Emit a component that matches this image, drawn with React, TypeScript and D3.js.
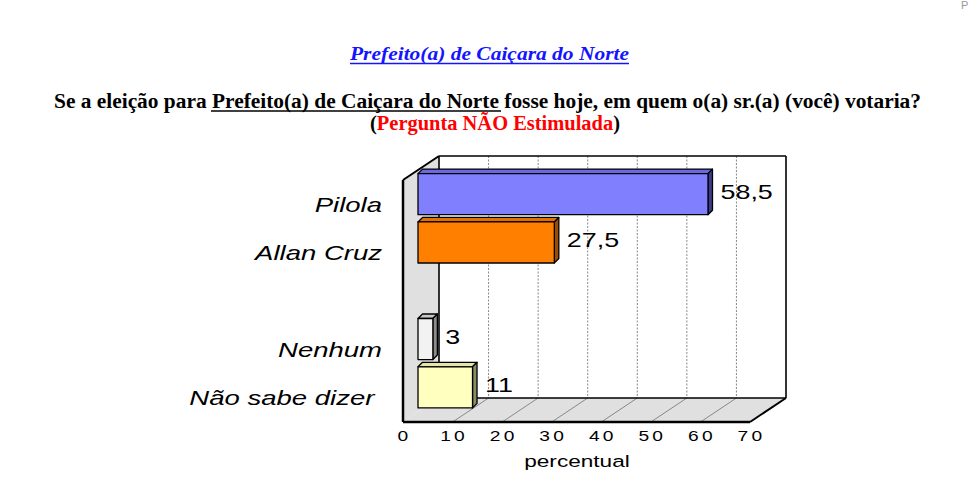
import * as d3 from "d3";

// dados da pesquisa
const categories = ["Pilola", "Allan Cruz", "", "Nenhum", "Não sabe dizer "];
const values: (number | null)[] = [58.5, 27.5, null, 3, 11];
const valueLabels = ["58,5", "27,5", "", "3", "11"];
const axisTicks = [0, 10, 20, 30, 40, 50, 60, 70];

const frontColors = ["#8080ff", "#ff8000", "none", "#f2f2f2", "#ffffc0"];
const topColors = ["#6a6ae0", "#e07000", "none", "#c8c8c8", "#e6e6a8"];
const sideColors = ["#3c3c8c", "#a04c00", "none", "#8c8c8c", "#8c8c64"];

const W = 969;
const H = 487;

// geometria da caixa 3D
const frontLeft = 403;
const frontRight = 750;
const floorFront = 422;
const dx = 36;
const dy = 24;
const wallTop = 156;
const barDepth = 4.5;
const stretch = 1.28;

export default function App() {
  const xFront = d3.scaleLinear().domain([0, 70]).range([frontLeft, frontRight]);
  const xBack = d3.scaleLinear().domain([0, 70]).range([frontLeft + dx, frontRight + dx]);
  const xBar = d3.scaleLinear().domain([0, 70]).range([418, 418 + 347]);
  const y = d3
    .scaleBand<string>()
    .domain(categories.map((c, i) => i + ""))
    .range([170, 411.5])
    .paddingInner(0.15)
    .paddingOuter(0.075);

  const backBottom = floorFront - dy;
  const bl = xBack(0);
  const br = xBack(70);

  return (
    <svg
      width={W}
      height={H}
      style={{position: "absolute", left: 0, top: 0, background: "#fff"}}
    >
      {/* cabeçalho */}
      <text
        x={350}
        y={60}
        textLength={279}
        lengthAdjust="spacingAndGlyphs"
        fontFamily="'Liberation Serif', serif"
        fontWeight="bold"
        fontStyle="italic"
        fontSize={18}
        fill="#1414ff"
      >
        Prefeito(a) de Caiçara do Norte
      </text>
      <line x1={350} x2={629} y1={63.5} y2={63.5} stroke="#1414ff" strokeWidth={1.3} />
      <text
        x={54}
        y={108}
        textLength={867}
        lengthAdjust="spacingAndGlyphs"
        fontFamily="'Liberation Serif', serif"
        fontWeight="bold"
        fontSize={20}
        fill="#000"
      >
        Se a eleição para Prefeito(a) de Caiçara do Norte fosse hoje, em quem o(a) sr.(a) (você)
        votaria?
      </text>
      <line x1={211} x2={501} y1={111} y2={111} stroke="#000" strokeWidth={1.5} />
      <text
        x={370}
        y={130}
        textLength={250}
        lengthAdjust="spacingAndGlyphs"
        fontFamily="'Liberation Serif', serif"
        fontWeight="bold"
        fontSize={20}
        fill="#000"
      >
        (<tspan fill="#ff0000">Pergunta NÃO Estimulada</tspan>)
      </text>
      <text x={961} y={9} fontSize={11} fill="#999" fontFamily="'Liberation Sans', sans-serif">
        P
      </text>

      {/* paredes */}
      <polygon
        points={`${frontLeft},${wallTop + dy} ${bl},${wallTop} ${bl},${backBottom} ${frontLeft},${floorFront}`}
        fill="#e0e0e0"
      />
      <polygon
        points={`${frontLeft},${floorFront} ${bl},${backBottom} ${br},${backBottom} ${frontRight},${floorFront}`}
        fill="#e0e0e0"
      />
      <rect x={bl} y={wallTop} width={br - bl} height={backBottom - wallTop} fill="#fff" />

      {/* grade */}
      {axisTicks.slice(1, -1).map((t) => (
        <g key={t}>
          <line
            x1={xBack(t)}
            x2={xBack(t)}
            y1={wallTop}
            y2={backBottom}
            stroke="#888"
            strokeWidth={1}
            strokeDasharray="2,1.5"
          />
          <line
            x1={xFront(t)}
            y1={floorFront}
            x2={xBack(t)}
            y2={backBottom}
            stroke="#888"
            strokeWidth={1}
          />
        </g>
      ))}

      {/* contornos */}
      <g stroke="#000" fill="none" strokeLinejoin="round">
        <line x1={bl} y1={wallTop} x2={br} y2={wallTop} strokeWidth={1.6} />
        <line x1={br} y1={wallTop} x2={br} y2={backBottom} strokeWidth={1.6} />
        <line x1={bl} y1={wallTop} x2={bl} y2={backBottom} strokeWidth={1.6} />
        <line x1={bl} y1={backBottom} x2={br} y2={backBottom} strokeWidth={1.6} />
        <line x1={frontLeft} y1={wallTop + dy} x2={bl} y2={wallTop} strokeWidth={2} />
        <line x1={frontLeft} y1={wallTop + dy} x2={frontLeft} y2={floorFront} strokeWidth={2.5} />
        <line x1={frontLeft} y1={floorFront} x2={frontRight} y2={floorFront} strokeWidth={2.5} />
        <line x1={frontRight} y1={floorFront} x2={br} y2={backBottom} strokeWidth={2} />
      </g>

      {/* barras */}
      {values.map((v, i) => {
        if (v === null) return null;
        const y0 = y(i + "")!;
        const h = y.bandwidth();
        const x0 = xBar(0);
        const x1 = xBar(v);
        return (
          <g key={i} stroke="#000" strokeWidth={1.3} strokeLinejoin="round">
            <polygon
              points={`${x0},${y0} ${x0 + barDepth},${y0 - barDepth} ${x1 + barDepth},${y0 - barDepth} ${x1},${y0}`}
              fill={topColors[i]}
            />
            <polygon
              points={`${x1},${y0} ${x1 + barDepth},${y0 - barDepth} ${x1 + barDepth},${y0 + h - barDepth} ${x1},${y0 + h}`}
              fill={sideColors[i]}
            />
            <rect x={x0} y={y0} width={x1 - x0} height={h} fill={frontColors[i]} />
          </g>
        );
      })}

      {/* rótulos de valor */}
      {values.map((v, i) =>
        v === null ? null : (
          <text
            key={i}
            transform={`translate(${xBar(v) + barDepth + 8},${y(i + "")! + y.bandwidth() / 2 + 5}) scale(${stretch},1)`}
            fontFamily="'Liberation Sans', Arial, sans-serif"
            fontSize={21}
            fill="#000"
          >
            {valueLabels[i]}
          </text>
        ),
      )}

      {/* categorias */}
      {categories.map((c, i) =>
        c ? (
          <text
            key={i}
            transform={`translate(382,${y(i + "")! + y.bandwidth() / 2 + 17.5}) scale(1.31,1)`}
            textAnchor="end"
            fontFamily="'Liberation Sans', Arial, sans-serif"
            fontStyle="italic"
            fontSize={21}
            fill="#000"
            style={{whiteSpace: "pre"}}
          >
            {c}
          </text>
        ) : null,
      )}

      {/* eixo */}
      {axisTicks.map((t) => (
        <text
          key={t}
          transform={`translate(${xFront(t) + 1.5},441) scale(${stretch},1)`}
          textAnchor="middle"
          fontFamily="'Liberation Sans', Arial, sans-serif"
          fontSize={15}
          letterSpacing={2.5}
          fill="#000"
        >
          {t}
        </text>
      ))}
      <text
        transform={`translate(577,467) scale(1.33,1)`}
        textAnchor="middle"
        fontFamily="'Liberation Sans', Arial, sans-serif"
        fontSize={17}
        fill="#000"
      >
        percentual
      </text>
    </svg>
  );
}
